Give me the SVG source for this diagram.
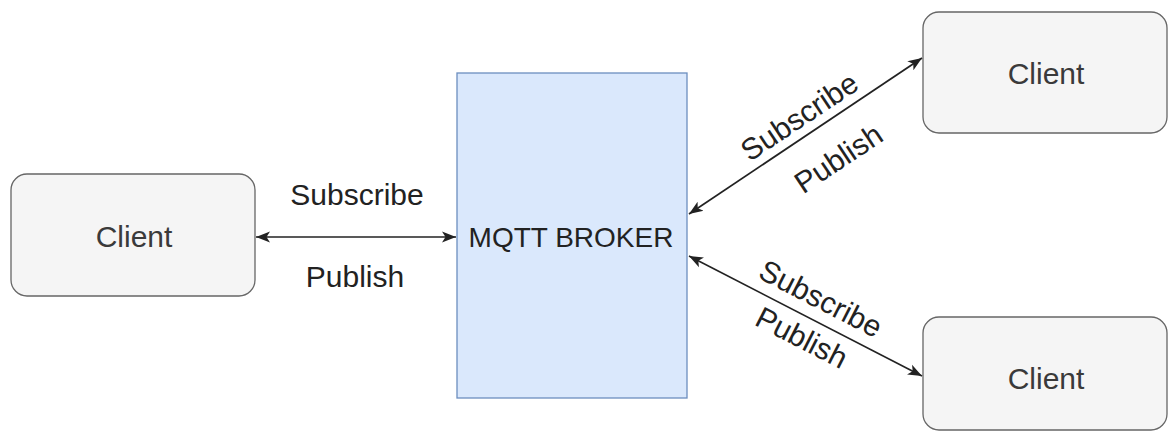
<svg xmlns="http://www.w3.org/2000/svg" width="1169" height="435" viewBox="0 0 1169 435">
  <style>
    .client rect { fill: #f5f5f5; stroke: #666666; stroke-width: 1.3; }
    .client text { fill: #3a3a3a; font-family: "Liberation Sans", Arial, sans-serif; font-size: 30px; text-anchor: middle; }
    .broker rect { fill: #dae8fc; stroke: #6c8ebf; stroke-width: 1.3; }
    .broker text { fill: #222222; font-family: "Liberation Sans", Arial, sans-serif; font-size: 28px; text-anchor: middle; }
    .edge { fill: none; stroke: #222222; stroke-width: 1.7; marker-start: url(#arrow); marker-end: url(#arrow); }
    .label { fill: #222222; font-family: "Liberation Sans", Arial, sans-serif; font-size: 30px; text-anchor: middle; }
  </style>
  <defs>
    <!-- classic notched arrowhead, reused on both ends of every connector -->
    <marker id="arrow" markerUnits="userSpaceOnUse" markerWidth="16" markerHeight="14" refX="14" refY="7" orient="auto-start-reverse">
      <path d="M0,1.5 L14,7 L0,12.5 L3.5,7 Z" fill="#222222"/>
    </marker>
  </defs>

  <rect width="1169" height="435" fill="#ffffff"/>

  <g id="broker" class="broker">
    <rect x="457" y="73" width="230" height="325"/>
    <text x="571" y="247">MQTT BROKER</text>
  </g>

  <g id="client-left" class="client">
    <rect x="11" y="174" width="244" height="122" rx="16" ry="16"/>
    <text x="134" y="247">Client</text>
  </g>

  <g id="client-top" class="client">
    <rect x="923" y="12" width="244" height="121" rx="16" ry="16"/>
    <text x="1046" y="84">Client</text>
  </g>

  <g id="client-bottom" class="client">
    <rect x="923" y="317" width="244" height="113" rx="16" ry="16"/>
    <text x="1046" y="389">Client</text>
  </g>

  <g id="connectors">
    <path class="edge" d="M256,237 L456,237"/>
    <path class="edge" d="M689,214 L922,58"/>
    <path class="edge" d="M689,256 L922,376"/>

    <text class="label" x="357" y="205">Subscribe</text>
    <text class="label" x="355" y="287">Publish</text>

    <text class="label" transform="translate(799,116) rotate(-33.7)" y="11">Subscribe</text>
    <text class="label" transform="translate(838,158) rotate(-33.7)" y="11">Publish</text>

    <text class="label" transform="translate(821,298) rotate(27.2)" y="11">Subscribe</text>
    <text class="label" transform="translate(802,337) rotate(27.2)" y="11">Publish</text>
  </g>
</svg>
